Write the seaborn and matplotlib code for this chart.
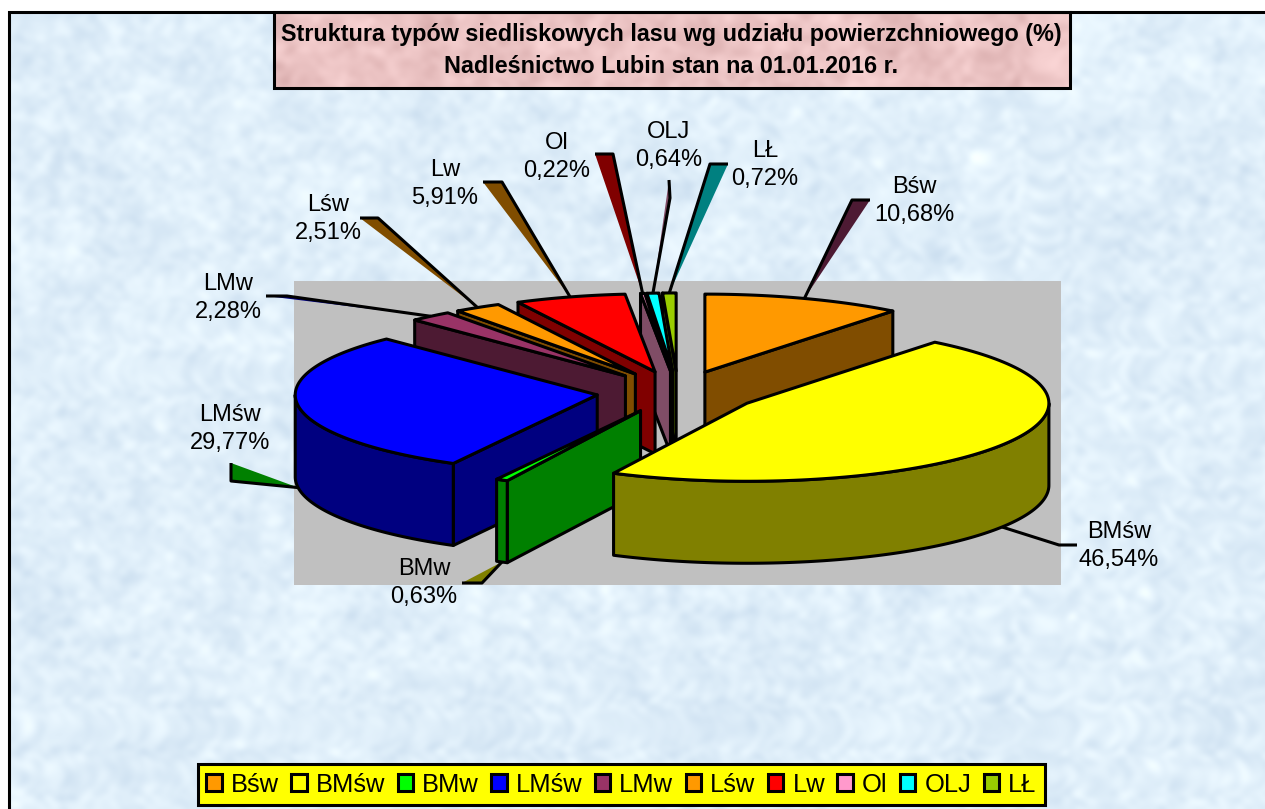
#3D exploded pie chart of forest site types, Nadlesnictwo Lubin
import numpy as np
import matplotlib
matplotlib.use('Agg')
import matplotlib.pyplot as plt
from matplotlib.patches import Polygon, Rectangle, Patch
import seaborn as sns

#Data
names = ['Bśw', 'BMśw', 'BMw', 'LMśw', 'LMw', 'Lśw', 'Lw', 'Ol', 'OLJ', 'LŁ']
shares = [10.68, 46.54, 0.63, 29.77, 2.28, 2.51, 5.91, 0.22, 0.64, 0.72]
title_lines = ['Struktura typów siedliskowych lasu wg udziału powierzchniowego (%)',
               'Nadleśnictwo Lubin stan na 01.01.2016 r.']

#Styles
top_colors = ['#FF9900', '#FFFF00', '#00FF00', '#0000FF', '#993366',
              '#FF9900', '#FF0000', '#FF99CC', '#00FFFF', '#99CC00']
leader_colors = ['#4D1A33', 'none', '#808000', '#008000', '#000080',
                 '#804D00', '#804D00', '#800000', '#804D66', '#008080']
#Leader line bends and label centres, in pixels of the 1265x809 picture
leader_bends = [[(852, 200), (870, 200)], [(1059, 545), (1077, 545)],
                [(482, 583), (462, 583)], [(231, 481), (231, 463)],
                [(287, 296), (266, 296)], [(378, 218), (360, 218)],
                [(502, 182), (483, 182)], [(613, 154), (595, 154)],
                [(670, 198), (669, 180)], [(710, 164), (728, 164)]]
label_centres = [(914, 201), (1119, 546), (424, 583), (230, 429), (228, 298),
                 (328, 219), (445, 184), (557, 157), (669, 146), (765, 165)]
#Draw order: left side going down from the top, then the right side
draw_order = [9, 8, 7, 6, 5, 4, 3, 2, 0, 1]

#Pie geometry in pixels
CX, CY = 678, 392
RX, RY = 302, 78
DEPTH = 82
EXPLODE = 0.27
LW = 2.2

sns.set_theme(style='white')
plt.rcParams['font.family'] = ['Liberation Sans', 'DejaVu Sans']
palette = sns.color_palette(top_colors)
side_colors = [tuple(0.5*c for c in col) for col in palette]

fig = plt.figure(figsize=(12.65, 8.09), dpi=100)
ax = fig.add_axes([0, 0, 1, 1])
ax.set_xlim(0, 1265)
ax.set_ylim(809, 0)
ax.axis('off')


def mottled(x0, x1, y0, y1, base, amp):
    #Paper like background made of overlaid sine waves going in many directions
    xx, yy = np.meshgrid(np.arange(x0, x1, 2), np.arange(y0, y1, 2))
    n = np.zeros_like(xx, dtype=float)
    for k in range(1, 40):
        ang = k*2.399963
        f = 0.02 + 0.0045*k
        warp = 2.2*np.sin(0.013*k*0.3*yy + k) + 2.2*np.cos(0.011*k*0.3*xx - k)
        n += np.sin(f*(np.cos(ang)*xx + np.sin(ang)*yy) + warp + k*k)
    n = n/n.std()
    img = np.clip(np.array(base)[None, None, :] + n[:, :, None]*np.array(amp), 0, 255)/255
    ax.imshow(img, extent=(x0, x1, y1, y0), aspect='auto', interpolation='bilinear', zorder=0)


#Background and frame
mottled(8, 1265, 11, 809, (224, 239, 250), (5, 4, 2.5))
ax.set_xlim(0, 1265)
ax.set_ylim(809, 0)
ax.plot([9, 9, 1265], [809, 12, 12], color='black', lw=2.2, zorder=1, solid_joinstyle='miter')
ax.add_patch(Rectangle((294, 281), 767, 304, fc='#C0C0C0', ec='none', zorder=1))

#Title box
mottled(273, 1071, 11, 90, (236, 196, 196), (5, 6, 6))
ax.set_xlim(0, 1265)
ax.set_ylim(809, 0)
ax.add_patch(Rectangle((274, 12), 796, 76, fc='none', ec='black', lw=2.2, zorder=1))
ax.text(671, 50.5, '\n'.join(title_lines), ha='center', va='center', fontsize=16.85,
        fontweight='bold', color='black', linespacing=1.5, zorder=5)

#Slices
vals = np.array(shares)
fracs = vals/vals.sum()
ends = np.cumsum(fracs)*360
starts = ends - fracs*360
mids = (starts + ends)/2


def rim(cx, cy, a0, a1):
    t = np.radians(np.linspace(a0, a1, 120))
    return np.column_stack([cx + RX*np.sin(t), cy - RY*np.cos(t)])


def add_face(pts, color, z):
    ax.add_patch(Polygon(pts, closed=True, fc=color, ec='black', lw=LW, joinstyle='round', zorder=z))


z = 2
anchors = {}
for i in draw_order:
    m = np.radians(mids[i])
    cx = CX + EXPLODE*RX*np.sin(m)
    cy = CY - EXPLODE*RY*np.cos(m)
    a0, a1 = starts[i], ends[i]
    p0 = rim(cx, cy, a0, a0)[0]
    p1 = rim(cx, cy, a1, a1)[0]
    drop = np.array([0, DEPTH])
    v = np.array([cx, cy])
    #Cut faces that look towards the viewer
    if np.sin(np.radians(a0)) < -1e-6:
        add_face([p0, v, v + drop, p0 + drop], side_colors[i], z)
    if np.sin(np.radians(a1)) > 1e-6:
        add_face([p1, v, v + drop, p1 + drop], side_colors[i], z)
    #Outer wall, front half of the ellipse only
    w0, w1 = max(a0, 90), min(a1, 270)
    if w1 > w0:
        arc = rim(cx, cy, w0, w1)
        add_face(np.vstack([arc, arc[::-1] + drop]), side_colors[i], z)
    #Top
    add_face(np.vstack([[v], rim(cx, cy, a0, a1)]), palette[i], z)
    z += 0.01
    anc = np.array([cx + RX*np.sin(m), cy - RY*np.cos(m)])
    if np.cos(m) < 0:
        anc = anc + drop
    anchors[i] = anc

#Leader lines and labels
for i in range(len(names)):
    b1, b2 = leader_bends[i]
    s = anchors[i]
    ax.add_patch(Polygon([s, b1, b2], closed=True, fc=leader_colors[i], ec='none', zorder=1.5))
    ax.plot([s[0], b1[0], b2[0]], [s[1], b1[1], b2[1]], color='black', lw=LW, zorder=1.5,
            solid_capstyle='butt', solid_joinstyle='round')
    txt = names[i] + '\n' + f'{shares[i]:.2f}'.replace('.', ',') + '%'
    ax.text(label_centres[i][0], label_centres[i][1], txt, ha='center', va='center',
            fontsize=17, color='black', linespacing=1.38, zorder=5)

#Legend
handles = [Patch(fc=palette[i], ec='black', lw=LW, label=names[i]) for i in range(len(names))]
leg = ax.legend(handles=handles, ncol=len(names), loc='center', fontsize=18.4,
                bbox_to_anchor=(621.5/1265, 1 - 784.5/809), frameon=True, fancybox=False,
                facecolor='#FFFF00', edgecolor='black', framealpha=1, labelcolor='black',
                handlelength=0.6, handleheight=0.6, handletextpad=0.36,
                columnspacing=0.485, borderpad=0.32, borderaxespad=0)
leg.get_frame().set_linewidth(2.2)
leg.set_zorder(6)

fig.savefig('out.png', dpi=100, facecolor='white')
